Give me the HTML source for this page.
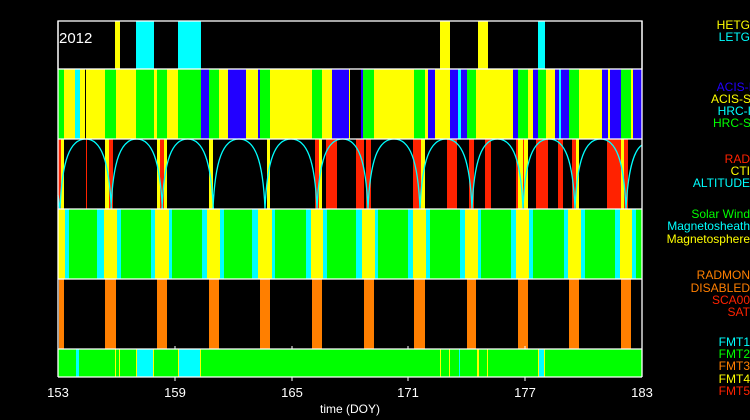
<!DOCTYPE html>
<html><head><meta charset="utf-8"><style>html,body{margin:0;padding:0;background:#000}svg{display:block}text{font-family:"Liberation Sans",sans-serif}</style></head><body>
<svg width="750" height="420" viewBox="0 0 750 420" xmlns="http://www.w3.org/2000/svg">
<rect width="750" height="420" fill="#000"/>
<!-- Panel 1 -->
<g fill="#ff0">
<rect x="115" y="21" width="5" height="48"/><rect x="440" y="21" width="10" height="48"/><rect x="478" y="21" width="10" height="48"/></g>
<g fill="#0ff"><rect x="136" y="21" width="18" height="48"/><rect x="178" y="21" width="23" height="48"/><rect x="538" y="21" width="7" height="48"/></g>
<text x="59" y="43" fill="#fff" font-size="15">2012</text>
<!-- Panel 2 -->
<g transform="translate(0,69)">
<rect x="58" y="0" width="584" height="70" fill="#ff0"/>
<g fill="#0f0">
<rect x="58" width="6" height="70"/><rect x="105" width="11" height="70"/><rect x="136" width="18" height="70"/><rect x="157" width="10" height="70"/><rect x="178" width="23" height="70"/><rect x="209" width="10" height="70"/><rect x="260" width="10" height="70"/><rect x="312" width="10" height="70"/><rect x="363" width="11" height="70"/><rect x="414" width="11" height="70"/><rect x="467" width="9" height="70"/><rect x="518" width="10" height="70"/><rect x="538" width="8" height="70"/><rect x="569" width="10" height="70"/><rect x="621" width="10" height="70"/></g>
<g fill="#0ff"><rect x="75" width="5" height="70"/><rect x="458" width="3" height="70"/><rect x="559" width="2" height="70"/></g>
<g fill="#2200ff">
<rect x="201" width="8" height="70"/><rect x="228" width="18" height="70"/><rect x="258" width="2" height="70"/><rect x="332" width="17" height="70"/><rect x="361" width="2" height="70"/><rect x="428" width="7" height="70"/><rect x="450" width="8" height="70"/><rect x="461" width="6" height="70"/><rect x="513" width="5" height="70"/><rect x="533" width="5" height="70"/><rect x="555" width="4" height="70"/><rect x="561" width="8" height="70"/><rect x="602" width="6" height="70"/><rect x="610" width="11" height="70"/><rect x="633" width="9" height="70"/></g>
<rect x="85" width="1" height="70" fill="#000"/>
<rect x="350" width="11" height="70" fill="#000"/>
</g>
<!-- Panel 3 -->
<g transform="translate(0,139)">
<g fill="#ff2200">
<rect x="58" width="3" height="70"/><rect x="86" width="1" height="70"/><rect x="109" width="4" height="70"/><rect x="160" width="4" height="70"/><rect x="315" width="4" height="70"/><rect x="326" width="11" height="70"/><rect x="356" width="8" height="70"/><rect x="366" width="5" height="70"/><rect x="413" width="8" height="70"/><rect x="447" width="10" height="70"/><rect x="469" width="5" height="70"/><rect x="485" width="6" height="70"/><rect x="516" width="2" height="70"/><rect x="536" width="12" height="70"/><rect x="558" width="5" height="70"/><rect x="572" width="4" height="70"/><rect x="607" width="14" height="70"/><rect x="624" width="4" height="70"/></g>
<g fill="#ff0">
<rect x="61" width="3" height="70"/><rect x="105" width="4" height="70"/><rect x="157" width="3" height="70"/><rect x="164" width="3" height="70"/><rect x="209" width="4" height="70"/><rect x="267" width="3" height="70"/><rect x="319" width="3" height="70"/><rect x="421" width="4" height="70"/><rect x="518" width="10" height="70"/><rect x="576" width="3" height="70"/><rect x="621" width="3" height="70"/></g>
<rect x="523" width="1" height="70" fill="#ff2200"/>
</g>
<path fill="none" stroke="#0ff" stroke-width="1.3" d="M58,195 C59,200 59,209 60,209
M60,209 C62,160 70,139 85.7,139 C101,139 109,160 111.4,209
M111,209 C113,160 121,139 136.7,139 C152,139 160,160 162.4,209
M162,209 C164,160 172,139 187.7,139 C203,139 211,160 213.4,209
M213,209 C215,160 223,139 239,139 C255,139 263,160 265,209
M265,209 C267,160 275,139 291,139 C307,139 315,160 317,209
M317,209 C319,160 327,139 342.5,139 C358,139 366,160 368,209
M368,209 C370,160 378,139 394,139 C410,139 418,160 420,209
M420,209 C422,160 430,139 446,139 C462,139 470,160 472,209
M472,209 C474,160 482,139 497.5,139 C513,139 521,160 523,209
M523,209 C525,160 533,139 549,139 C565,139 573,160 575,209
M575,209 C577,160 585,139 600.5,139 C616,139 624,160 626,209
M626,209 C628,170 634,150 642,145"/>
<!-- Panel 4 -->
<g transform="translate(0,209)">
<rect x="58" width="584" height="70" fill="#0f0"/>
<g fill="#0ff">
<rect x="65" width="4" height="70"/><rect x="97" width="7" height="70"/><rect x="117" width="4" height="70"/><rect x="151" width="4" height="70"/><rect x="169" width="3" height="70"/><rect x="202" width="5" height="70"/><rect x="220" width="4" height="70"/><rect x="252" width="6" height="70"/><rect x="272" width="3" height="70"/><rect x="306" width="5" height="70"/><rect x="323" width="4" height="70"/><rect x="356" width="6" height="70"/><rect x="375" width="3" height="70"/><rect x="408" width="5" height="70"/><rect x="426" width="4" height="70"/><rect x="460" width="5" height="70"/><rect x="478" width="3" height="70"/><rect x="511" width="5" height="70"/><rect x="529" width="4" height="70"/><rect x="564" width="4" height="70"/><rect x="581" width="4" height="70"/><rect x="615" width="5" height="70"/><rect x="632" width="4" height="70"/></g>
<g fill="#ff0">
<rect x="58" width="7" height="70"/><rect x="104" width="13" height="70"/><rect x="155" width="14" height="70"/><rect x="207" width="13" height="70"/><rect x="258" width="14" height="70"/><rect x="311" width="12" height="70"/><rect x="362" width="13" height="70"/><rect x="413" width="13" height="70"/><rect x="465" width="13" height="70"/><rect x="516" width="13" height="70"/><rect x="568" width="13" height="70"/><rect x="620" width="12" height="70"/></g>
</g>
<!-- Panel 5 -->
<g transform="translate(0,279)" fill="#ff7f00">
<rect x="59" width="5" height="70"/><rect x="105" width="11" height="70"/><rect x="157" width="10" height="70"/><rect x="209" width="10" height="70"/><rect x="260" width="10" height="70"/><rect x="312" width="10" height="70"/><rect x="364" width="10" height="70"/><rect x="414" width="11" height="70"/><rect x="467" width="9" height="70"/><rect x="518" width="10" height="70"/><rect x="569" width="10" height="70"/><rect x="621" width="10" height="70"/></g>
<!-- Panel 6 -->
<g transform="translate(0,349)">
<rect x="58" width="584" height="28" fill="#0f0"/>
<g fill="#0ff"><rect x="76" width="3" height="28"/><rect x="137" width="16" height="28"/><rect x="179" width="21" height="28"/><rect x="459" width="1" height="28"/><rect x="539" width="5" height="28"/></g>
<g fill="#ff0"><rect x="115" width="1" height="28"/><rect x="119" width="1" height="28"/><rect x="136" width="1" height="28"/><rect x="153" width="1" height="28"/><rect x="178" width="1" height="28"/><rect x="200" width="1" height="28"/><rect x="440" width="1" height="28"/><rect x="449" width="1" height="28"/><rect x="477" width="2" height="28"/><rect x="487" width="1" height="28"/><rect x="538" width="1" height="28"/><rect x="544" width="1" height="28"/></g>
</g>
<!-- frames -->
<g fill="none" stroke="#fff" stroke-width="1.3">
<rect x="58" y="21" width="584" height="48"/>
<line x1="58" y1="139" x2="642" y2="139"/>
<line x1="58" y1="209" x2="642" y2="209"/>
<line x1="58" y1="279" x2="642" y2="279"/>
<line x1="58" y1="349" x2="642" y2="349"/>
<line x1="58" y1="21" x2="58" y2="377"/>
<line x1="642" y1="21" x2="642" y2="377"/>
<line x1="58" y1="377" x2="642" y2="377"/>
</g>
<g stroke="#fff" stroke-width="1">
<line x1="175" y1="346" x2="175" y2="349"/><line x1="292" y1="346" x2="292" y2="349"/><line x1="408" y1="346" x2="408" y2="349"/><line x1="525" y1="346" x2="525" y2="349"/>
<line x1="175" y1="377" x2="175" y2="381"/><line x1="292" y1="377" x2="292" y2="381"/><line x1="408" y1="377" x2="408" y2="381"/><line x1="525" y1="377" x2="525" y2="381"/>
</g>
<g fill="#fff" font-size="13" text-anchor="middle">
<text x="58" y="397">153</text><text x="175" y="397">159</text><text x="292" y="397">165</text><text x="408" y="397">171</text><text x="525" y="397">177</text><text x="642" y="397">183</text>
<text x="350" y="413" font-size="12">time (DOY)</text>
</g>
<g font-size="12" text-anchor="end">
<text x="750" y="29" fill="#ff0">HETG</text><text x="750" y="41" fill="#0ff">LETG</text>
<text x="752" y="91" fill="#2200ff">ACIS-I</text><text x="751" y="103" fill="#ff0">ACIS-S</text><text x="751" y="115" fill="#0ff">HRC-I</text><text x="751" y="127" fill="#0f0">HRC-S</text>
<text x="750" y="163" fill="#ff2200">RAD</text><text x="750" y="175" fill="#ff0">CTI</text><text x="750" y="187" fill="#0ff">ALTITUDE</text>
<text x="750" y="218" fill="#0f0">Solar Wind</text><text x="750" y="230" fill="#0ff">Magnetosheath</text><text x="750" y="243" fill="#ff0">Magnetosphere</text>
<text x="750" y="279" fill="#ff7f00">RADMON</text><text x="750" y="292" fill="#ff7f00">DISABLED</text><text x="750" y="304" fill="#ff2200">SCA00</text><text x="750" y="316" fill="#ff2200">SAT</text>
<text x="750" y="346" fill="#0ff">FMT1</text><text x="750" y="358" fill="#0f0">FMT2</text><text x="750" y="370" fill="#ff7f00">FMT3</text><text x="750" y="383" fill="#ff0">FMT4</text><text x="750" y="395" fill="#ff2200">FMT5</text>
</g>
</svg>
</body></html>
